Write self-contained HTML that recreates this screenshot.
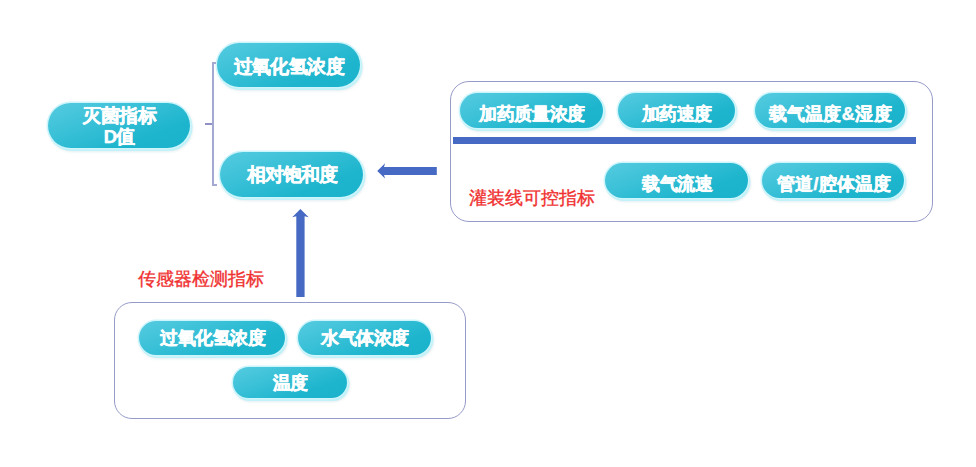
<!DOCTYPE html>
<html><head><meta charset="utf-8">
<style>
html,body{margin:0;padding:0;background:#fff;width:976px;height:467px;overflow:hidden;position:relative;font-family:"Liberation Sans",sans-serif;}
.p{position:absolute;box-sizing:border-box;border-radius:999px;color:#fff;font-weight:bold;font-size:18.5px;letter-spacing:-0.6px;display:flex;align-items:center;justify-content:center;text-align:center;
background:linear-gradient(160deg,#56cbe0 0%,#38c0d7 38%,#1db5cd 72%,#1ab3cb 100%);
box-shadow:0 0 0 1.5px #cdf5fb, 1px 1.5px 0 1.5px #bff2f9, 1.5px 2.5px 3px 1px rgba(140,180,190,0.3);
text-shadow:0 0 1px rgba(255,255,255,0.6);-webkit-text-stroke:0.25px #fff;line-height:21px;padding-top:3px;padding-left:1px;}
.n{padding-top:8px;font-size:18px;letter-spacing:-0.4px;}
.sm{font-size:18px;letter-spacing:-0.5px;padding-top:1px;}
.box{position:absolute;box-sizing:border-box;border:1.7px solid #959bc8;}
.red{position:absolute;color:#f03030;font-size:18px;white-space:nowrap;line-height:20px;-webkit-text-stroke:0.35px #f03030;}
.ln{position:absolute;background:#a4a9d2;}
</style></head><body>
<!-- left column -->
<div class="p" style="left:47.6px;top:102.8px;width:142.3px;height:45.3px;padding-top:2px;">灭菌指标<br>D值</div>
<div class="p" style="left:216.8px;top:43px;width:143px;height:44.2px;">过氧化氢浓度</div>
<div class="p" style="left:220px;top:151.5px;width:143.3px;height:45.6px;padding-top:1px;letter-spacing:-0.9px;">相对饱和度</div>
<!-- bracket -->
<div class="ln" style="left:212px;top:62px;width:2px;height:124px;"></div>
<div class="ln" style="left:212px;top:62px;width:4px;height:1.5px;"></div>
<div class="ln" style="left:212px;top:184.3px;width:5px;height:1.5px;"></div>
<div class="ln" style="left:205.2px;top:123.4px;width:7px;height:1.6px;background:#8e90c6;"></div>
<!-- arrows -->
<svg style="position:absolute;left:0;top:0" width="976" height="467">
<polygon points="377.2,170.9 385.1,163.2 384,167 436.8,167 436.8,174.9 384,174.9 385.1,178.6" fill="#4669c4"/>
<polygon points="300.4,208.9 308.7,217.3 304.6,216.3 304.6,296.9 296.3,296.9 296.3,216.3 292.2,217.3" fill="#4669c4"/>
</svg>
<!-- right box -->
<div class="box" style="left:449.8px;top:81.4px;width:482.9px;height:140.4px;border-radius:19px;"></div>
<div class="p n" style="left:460.2px;top:92.5px;width:142.8px;height:35px;">加药质量浓度</div>
<div class="p n" style="left:618px;top:92.7px;width:116.5px;height:35px;">加药速度</div>
<div class="p n" style="left:755px;top:92.5px;width:149.5px;height:35.5px;letter-spacing:0.1px;">载气温度<span style="margin:0 0.5px">&amp;</span>湿度</div>
<div style="position:absolute;left:453px;top:136.7px;width:463px;height:7.2px;background:#4669c4;"></div>
<div class="p n" style="left:605.4px;top:162.7px;width:142.8px;height:35.3px;">载气流速</div>
<div class="p n" style="left:762.4px;top:162.6px;width:142.1px;height:35.4px;letter-spacing:-0.2px;">管道<span style="margin:0 1px 0 0.5px">/</span>腔体温度</div>
<div class="red" style="left:468.5px;top:187.5px;">灌装线可控指标</div>
<!-- bottom -->
<div class="red" style="left:138px;top:269px;">传感器检测指标</div>
<div class="box" style="left:114px;top:301.7px;width:351.8px;height:117.2px;border-radius:18px;"></div>
<div class="p sm" style="left:139.4px;top:320.7px;width:146px;height:33.9px;">过氧化氢浓度</div>
<div class="p sm" style="left:298px;top:320.7px;width:132.6px;height:33.9px;">水气体浓度</div>
<div class="p sm" style="left:232.7px;top:367px;width:114.5px;height:31.1px;">温度</div>
</body></html>
